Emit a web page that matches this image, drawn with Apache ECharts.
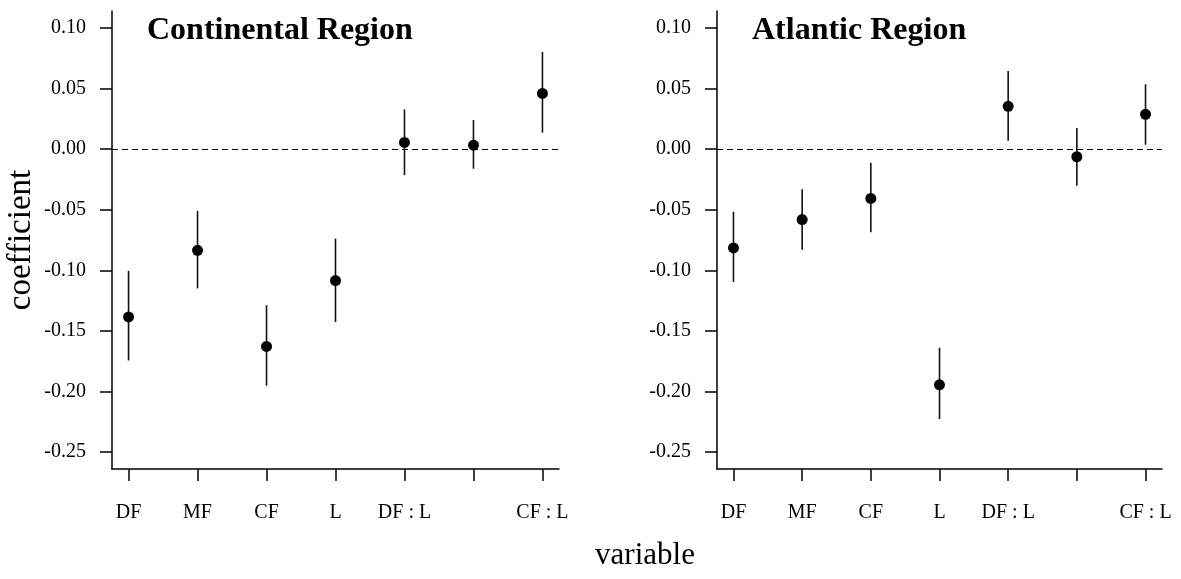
<!DOCTYPE html>
<html>
<head>
<meta charset="utf-8">
<script src="https://cdn.jsdelivr.net/npm/echarts@6/dist/echarts.min.js"></script>
<style>html,body{margin:0;padding:0;background:#fff}#c{width:1181px;height:579px}</style>
</head>
<body>
<div id="c"></div>
<script>
// ---- data ----
const categories = ["DF", "MF", "CF", "L", "DF : L", "MF : L", "CF : L"];
const tickLabels = ["DF", "MF", "CF", "L", "DF : L", "", "CF : L"];
const yTicks = [-0.25, -0.20, -0.15, -0.10, -0.05, 0.00, 0.05, 0.10];
const panelTitles = ["Continental Region", "Atlantic Region"];

const contEst  = [-0.1385, -0.0835, -0.1628, -0.1085, 0.0055, 0.0033, 0.0460];
const contLow  = [-0.1744, -0.1149, -0.1953, -0.1426, -0.0215, -0.0162, 0.0136];
const contHigh = [-0.1005, -0.0509, -0.1289, -0.0738, 0.0328, 0.0240, 0.0802];

const atlEst  = [-0.0815, -0.0581, -0.0407, -0.1945, 0.0353, -0.0063, 0.0287];
const atlLow  = [-0.1096, -0.0831, -0.0686, -0.2228, 0.0069, -0.0302, 0.0036];
const atlHigh = [-0.0517, -0.0331, -0.0112, -0.1639, 0.0645, 0.0174, 0.0535];

// ---- chart ----
const FONT = "Liberation Serif, Times New Roman, serif";
const chart = echarts.init(document.getElementById('c'), null, {renderer: 'canvas'});
const xPos = categories.map((_, i) => i + 1);

function xAxisDef(gi) {
  return {
    type: 'value', gridIndex: gi, min: 0.76, max: 7.24,
    splitLine: {show: false},
    axisLine: {show: true, onZero: false, lineStyle: {color: '#000', width: 1.5}},
    axisTick: {show: true, customValues: xPos, length: 12, lineStyle: {color: '#000', width: 1.5}},
    axisLabel: {show: true, customValues: xPos, margin: 34, color: '#000', fontFamily: FONT, fontSize: 20,
      formatter: v => tickLabels[Math.round(v) - 1] || ''}
  };
}
function yAxisDef(gi, withName) {
  const a = {
    type: 'value', gridIndex: gi, min: -0.264, max: 0.114,
    splitLine: {show: false},
    axisLine: {show: true, onZero: false, lineStyle: {color: '#000', width: 1.5}},
    axisTick: {show: true, customValues: yTicks, length: 12, lineStyle: {color: '#000', width: 1.5}},
    axisLabel: {show: true, customValues: yTicks, margin: 26, color: '#000', fontFamily: FONT, fontSize: 20,
      formatter: v => v.toFixed(2)}
  };
  if (withName) {
    Object.assign(a, {name: 'coefficient', nameLocation: 'middle', nameRotate: 90, nameGap: 74,
      nameTextStyle: {color: '#000', fontFamily: FONT, fontSize: 33}});
  }
  return a;
}
function errSeries(gi, low, high) {
  return {
    type: 'custom', xAxisIndex: gi, yAxisIndex: gi, z: 2,
    data: xPos.map((x, i) => [x, low[i], high[i]]),
    encode: {x: 0, y: [1, 2]},
    renderItem: (params, api) => {
      const x = api.value(0);
      const p1 = api.coord([x, api.value(1)]);
      const p2 = api.coord([x, api.value(2)]);
      return {type: 'line', shape: {x1: p1[0], y1: p1[1], x2: p2[0], y2: p2[1]},
        style: {stroke: '#111', lineWidth: 1.6}};
    }
  };
}
function ptSeries(gi, est) {
  return {
    type: 'scatter', xAxisIndex: gi, yAxisIndex: gi, z: 3,
    symbol: 'circle', symbolSize: 11,
    itemStyle: {color: '#000', opacity: 1},
    data: xPos.map((x, i) => [x, est[i]]),
    markLine: {
      silent: true, symbol: 'none', label: {show: false},
      lineStyle: {color: '#000', type: [6, 4], width: 1.2},
      data: [{yAxis: 0}]
    }
  };
}

chart.setOption({
  animation: false,
  backgroundColor: '#fff',
  title: [
    {text: panelTitles[0], left: 142, top: 10,
      textStyle: {fontFamily: FONT, fontSize: 32, fontWeight: 'bold', color: '#000'}},
    {text: panelTitles[1], left: 747, top: 10,
      textStyle: {fontFamily: FONT, fontSize: 32, fontWeight: 'bold', color: '#000'}}
  ],
  grid: [
    {left: 112, right: 622, top: 11, bottom: 110},
    {left: 717, right: 19, top: 11, bottom: 110}
  ],
  xAxis: [xAxisDef(0), xAxisDef(1)],
  yAxis: [yAxisDef(0, true), yAxisDef(1, false)],
  graphic: [{
    type: 'text', x: 645, y: 556,
    style: {text: 'variable', fill: '#000', font: '31px ' + FONT, textAlign: 'center', textVerticalAlign: 'middle'}
  }],
  series: [
    errSeries(0, contLow, contHigh), ptSeries(0, contEst),
    errSeries(1, atlLow, atlHigh), ptSeries(1, atlEst)
  ]
});
</script>
</body>
</html>
